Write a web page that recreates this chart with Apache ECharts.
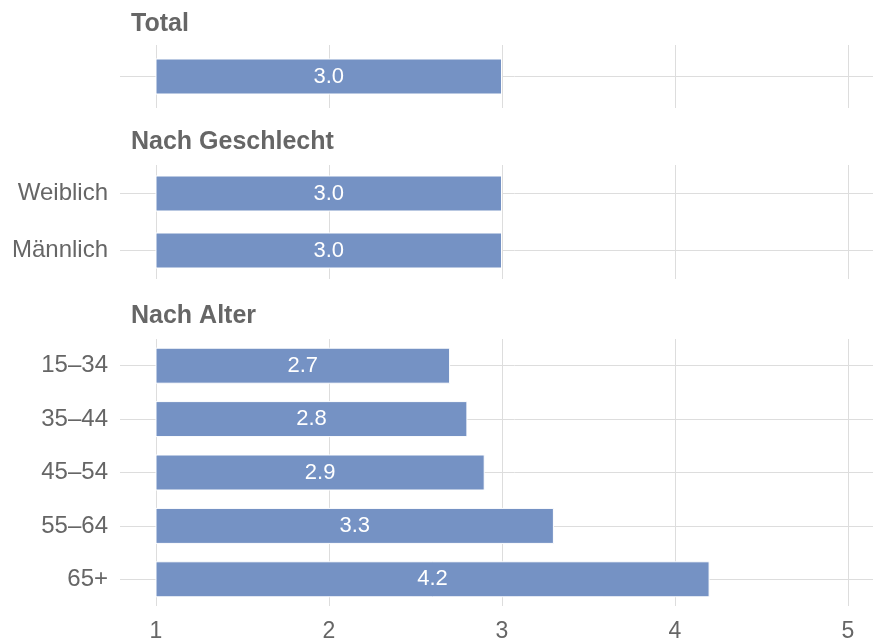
<!DOCTYPE html>
<html>
<head>
<meta charset="utf-8">
<script src="https://cdn.jsdelivr.net/npm/echarts@6/dist/echarts.min.js"></script>
<style>
  html, body { margin: 0; padding: 0; background: #fff; }
  #chart { width: 873px; height: 643px; }
</style>
</head>
<body>
<div id="chart"></div>
<script>
// data
const panelTitles = ['Total', 'Nach Geschlecht', 'Nach Alter'];
const totalCats = ['Total'];
const totalValues = [3.0];
const genderCats = ['Weiblich', 'Männlich'];
const genderValues = [3.0, 3.0];
const ageCats = ['15–34', '35–44', '45–54', '55–64', '65+'];
const ageValues = [2.7, 2.8, 2.9, 3.3, 4.2];
const xTicks = [1, 2, 3, 4, 5];

const FONT = '"Liberation Sans", Arial, sans-serif';
const TEXT = '#666666';
const GRIDC = '#dddddd';
const BAR = '#7592c4';

// plot runs from x=156 (value 1) to x=848 (value 5); the row lines run on to the right edge
const PX_PER_UNIT = (848 - 156) / 4;
const xMax = xTicks[xTicks.length - 1] + 25 / PX_PER_UNIT;

const grids = [
  { left: 156, right: 0, top: 45, height: 63 },
  { left: 156, right: 0, top: 165, height: 114 },
  { left: 156, right: 0, top: 339, height: 270 }
];
const cats = [totalCats, genderCats, ageCats];
const vals = [totalValues, genderValues, ageValues];
const titleTops = [7, 125, 299];

const chart = echarts.init(document.getElementById('chart'));

const xAxis = grids.map((g, i) => ({
  type: 'value',
  gridIndex: i,
  min: xTicks[0],
  max: xMax,
  interval: 1,
  axisLine: { show: false },
  axisTick: { show: false },
  splitLine: { show: true, showMaxLine: false, lineStyle: { color: GRIDC, width: 1 } },
  axisLabel: {
    show: i === grids.length - 1,
    showMaxLabel: false,
    color: TEXT,
    fontFamily: FONT,
    fontSize: 23,
    margin: 14
  }
}));

const yAxis = grids.map((g, i) => ({
  type: 'category',
  gridIndex: i,
  data: cats[i],
  inverse: true,
  axisLine: { show: false },
  axisTick: { show: true, alignWithLabel: true, length: 36, lineStyle: { color: GRIDC } },
  axisLabel: {
    show: i !== 0,
    color: TEXT,
    fontFamily: FONT,
    fontSize: 24,
    margin: 48
  }
}));

const series = grids.map((g, i) => ({
  type: 'bar',
  xAxisIndex: i,
  yAxisIndex: i,
  data: vals[i],
  barWidth: 36,
  clip: true,
  z: 3,
  itemStyle: { color: BAR, borderColor: '#ffffff', borderWidth: 1 },
  label: {
    show: true,
    position: 'inside',
    color: '#ffffff',
    fontFamily: FONT,
    fontSize: 22,
    formatter: p => p.value.toFixed(1)
  },
  markLine: {
    silent: true,
    z: 1,
    symbol: 'none',
    label: { show: false },
    lineStyle: { color: GRIDC, width: 1, type: 'solid' },
    data: cats[i].map(c => ({ yAxis: c }))
  },
  silent: true
}));

chart.setOption({
  animation: false,
  title: panelTitles.map((t, i) => ({
    text: t,
    left: 126,
    top: titleTops[i],
    textStyle: { color: TEXT, fontFamily: FONT, fontSize: 25, fontWeight: 'bold' }
  })),
  grid: grids,
  xAxis: xAxis,
  yAxis: yAxis,
  series: series
});
</script>
</body>
</html>
